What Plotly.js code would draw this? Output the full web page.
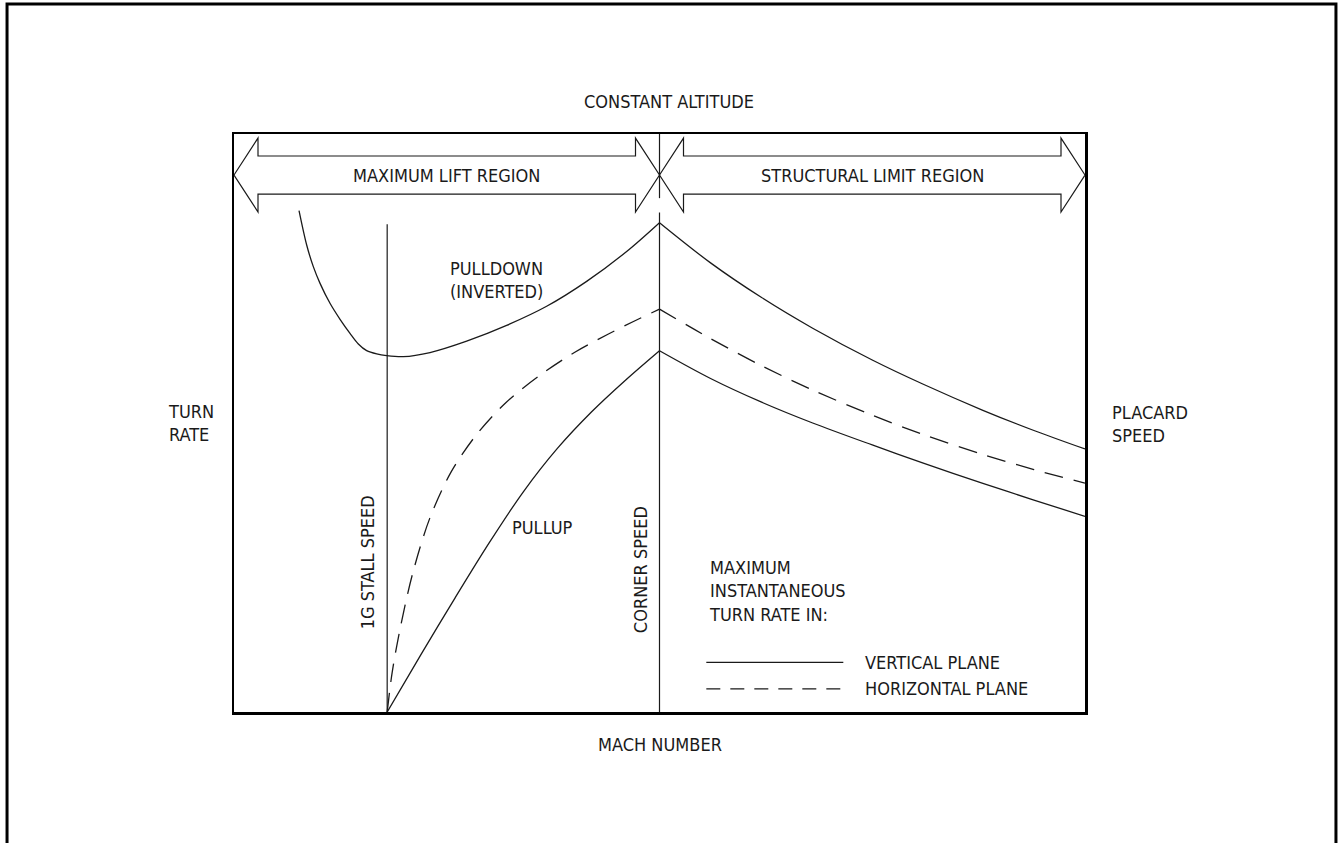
<!DOCTYPE html>
<html>
<head>
<meta charset="utf-8">
<script src="https://cdn.plot.ly/plotly-3.0.1.min.js"></script>
<style>
  html, body { margin: 0; padding: 0; background: #fff; }
  #chart { width: 1338px; height: 843px; }
</style>
</head>
<body>
<div id="chart"></div>
<script>
// schematic units: mach 0-100 across the frame, turn rate 0-100 up the frame
const stallMach = 18
const cornerMach = 50

// pulldown (inverted), vertical plane
const pulldownX = [7.64, 8.54, 9.32, 10.11, 11.28, 12.46, 13.63, 14.61, 15.59, 16.77, 17.94, 19.9, 23.03, 27.34, 32.04, 36.74, 41.44, 46.14, 50]
const pulldownY = [86.75, 80.8, 77.05, 74.16, 70.71, 67.94, 65.51, 63.67, 62.51, 61.94, 61.65, 61.48, 62.19, 64.16, 66.89, 70.19, 74.5, 79.67, 84.65]

// pullup, vertical plane
const pullupX = [18, 22, 26, 30, 34, 38, 42, 46, 50]
const pullupY = [0, 10.0, 19.8, 29.3, 38.1, 45.6, 51.9, 57.4, 62.5]

// horizontal plane, below corner speed
const horizLeftX = [18, 18.6, 19.6, 21, 23, 25.5, 28.5, 32, 36, 40, 44, 47, 50]
const horizLeftY = [0, 7, 15, 24, 33.5, 41.5, 48, 53.6, 58.3, 62.2, 65.4, 67.6, 69.7]

// structural limit region (above corner speed)
const rightX = [50, 56, 62, 68, 75, 81, 88, 94, 100]
const pulldownRightY = [84.65, 77.7, 71.7, 66.4, 60.9, 56.7, 52.2, 48.7, 45.5]
const horizRightY = [69.7, 64.6, 59.9, 55.7, 51.35, 48.0, 44.56, 41.94, 39.6]
const pullupRightY = [62.5, 57.7, 53.6, 50.0, 46.2, 43.05, 39.55, 36.67, 33.85]

const regionNames = ['MAXIMUM LIFT REGION', 'STRUCTURAL LIMIT REGION']
const regionStart = [0, 50]
const regionEnd = [50, 100]

const FONT = '"DejaVu Sans Condensed", "Liberation Sans Narrow", sans-serif'
const INK = '#1a1a1a'
const FS = 18

const solid = {color: INK, width: 1.3, shape: 'spline', smoothing: 0.9}
const dashed = {color: INK, width: 1.3, shape: 'spline', smoothing: 0.9, dash: '19px,11px'}

const curve = (x, y, line) => ({
    type: 'scatter', mode: 'lines', x: x, y: y, line: line,
    hoverinfo: 'skip', showlegend: false,
})

const data = [
    curve(pulldownX, pulldownY, solid),
    curve(rightX, pulldownRightY, solid),
    curve(pullupX, pullupY, solid),
    curve(rightX, pullupRightY, solid),
    curve(horizLeftX, horizLeftY, dashed),
    curve(rightX, horizRightY, dashed),
]

// double-headed region arrows
const arrowY = 92.9, shaftH = 3.29, headH = 6.4, headL = 2.82
const arrowPath = (a, b) => {
    const pts = [
        [a, arrowY], [a + headL, arrowY + headH], [a + headL, arrowY + shaftH],
        [b - headL, arrowY + shaftH], [b - headL, arrowY + headH], [b, arrowY],
        [b - headL, arrowY - headH], [b - headL, arrowY - shaftH],
        [a + headL, arrowY - shaftH], [a + headL, arrowY - headH],
    ]
    return 'M ' + pts.map(p => p[0] + ',' + p[1]).join(' L ') + ' Z'
}

const thin = {color: INK, width: 1.2}
const vline = (x, y0, y1) => ({type: 'line', xref: 'x', yref: 'y', x0: x, x1: x, y0: y0, y1: y1, line: thin})
const shapes = []
regionStart.forEach((a, i) => {
    shapes.push({type: 'path', xref: 'x', yref: 'y', path: arrowPath(a, regionEnd[i]), line: thin, fillcolor: 'rgba(0,0,0,0)'})
})
// speed lines
shapes.push(vline(stallMach, 0, 84.4))
shapes.push(vline(cornerMach, 0, 86.4))
shapes.push(vline(cornerMach, 88.9, 100))
// key samples
shapes.push({type: 'line', xref: 'x', yref: 'y', x0: 55.5, x1: 71.6, y0: 8.6, y1: 8.6, line: thin})
shapes.push({type: 'line', xref: 'x', yref: 'y', x0: 55.5, x1: 71.6, y0: 4.0, y1: 4.0, line: {color: INK, width: 1.2, dash: '14px,10px'}})
// outer drawing border
shapes.push({type: 'rect', xref: 'paper', yref: 'paper', x0: -0.2667, x1: 1.2949, y0: -0.4, y1: 1.2249, line: {color: '#000', width: 3}})

const txt = (text, x, y, extra) => Object.assign({
    text: text, x: x, y: y, xref: 'x', yref: 'y', showarrow: false,
    xanchor: 'center', yanchor: 'middle',
    font: {family: FONT, size: FS, color: INK},
}, extra || {})

const annotations = [
    txt(regionNames[0], (regionStart[0] + regionEnd[0]) / 2, arrowY),
    txt(regionNames[1], (regionStart[1] + regionEnd[1]) / 2, arrowY),
    txt('PULLDOWN<br>(INVERTED)', 25.15, 74.7, {xanchor: 'left', align: 'left'}),
    txt('PULLUP', 36.25, 32.0),
    txt('1G STALL SPEED', 15.63, 25.9, {textangle: -90}),
    txt('CORNER SPEED', 47.7, 24.7, {textangle: -90}),
    txt('MAXIMUM<br>INSTANTANEOUS<br>TURN RATE IN:', 55.6, 20.9, {xanchor: 'left', align: 'left'}),
    txt('VERTICAL PLANE', 73.9, 8.6, {xanchor: 'left'}),
    txt('HORIZONTAL PLANE', 73.9, 4.0, {xanchor: 'left'}),
    txt('TURN<br>RATE', -0.0799, 0.5, {xref: 'paper', yref: 'paper', xanchor: 'left', align: 'left'}),
    txt('PLACARD<br>SPEED', 1.0294, 0.498, {xref: 'paper', yref: 'paper', xanchor: 'left', align: 'left'}),
    txt('MACH NUMBER', 0.5, -0.057, {xref: 'paper', yref: 'paper'}),
]

const axis = {
    range: [0, 100], showgrid: false, zeroline: false, showticklabels: false,
    ticks: '', showline: true, mirror: true, linecolor: '#000', linewidth: 2.5, fixedrange: true,
}

const layout = {
    width: 1338, height: 843,
    margin: {l: 234, r: 253, t: 134, b: 131},
    paper_bgcolor: '#fff', plot_bgcolor: '#fff',
    title: {text: 'CONSTANT ALTITUDE', x: 0.5, xanchor: 'center', y: 1 - 102 / 843, yanchor: 'middle',
        font: {family: FONT, size: FS, color: INK}},
    xaxis: axis,
    yaxis: axis,
    shapes: shapes,
    annotations: annotations,
    showlegend: false,
}

Plotly.newPlot('chart', data, layout, {displayModeBar: false, staticPlot: true})
</script>
</body>
</html>
